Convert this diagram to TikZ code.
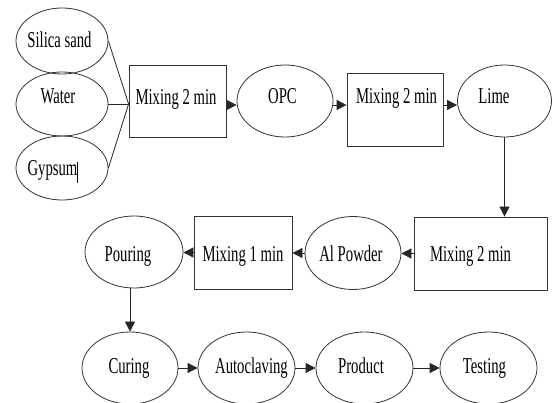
\documentclass[tikz,border=0pt]{standalone}
\usepackage{fontspec}
\setmainfont{Liberation Serif}
\usetikzlibrary{shapes.geometric,arrows.meta}
\newcommand\stretchtxt[1]{\scalebox{1}[1.54]{#1}}
\begin{document}
\begin{tikzpicture}[x=1pt,y=-1pt,
  shp/.style={draw=black!80, line width=0.8pt, inner sep=0pt},
  ell/.style={shp, ellipse},
  boxn/.style={shp, rectangle},
  lbl/.style={anchor=base, inner sep=0pt, font=\fontsize{14.7}{16}\selectfont},
  ln/.style={draw=black!85, line width=0.8pt},
  arr/.style={ln, -{Triangle[length=10pt,width=10pt]}}]
\useasboundingbox (0,0) rectangle (552,403);
% shapes
\node[ell, minimum width=92pt, minimum height=66pt] (silica) at (62,41) {};
\node[ell, minimum width=92pt, minimum height=64pt] (water) at (62,104) {};
\node[ell, minimum width=92pt, minimum height=64pt] (gyp) at (62,168) {};
\node[boxn, minimum width=97pt, minimum height=72pt] (box1) at (177.5,101) {};
\node[ell, minimum width=96pt, minimum height=72pt] (opc) at (285,101) {};
\node[boxn, minimum width=96pt, minimum height=73pt] (box2) at (395,109.5) {};
\node[ell, minimum width=94pt, minimum height=72pt] (lime) at (504.5,101) {};
\node[boxn, minimum width=133pt, minimum height=73pt] (box3) at (480.5,253.5) {};
\node[ell, minimum width=96pt, minimum height=73pt] (alp) at (353,253) {};
\node[boxn, minimum width=98pt, minimum height=73pt] (mix1) at (243,252.5) {};
\node[ell, minimum width=98pt, minimum height=72pt] (pour) at (134,252) {};
\node[ell, minimum width=96pt, minimum height=72pt] (cur) at (130,368) {};
\node[ell, minimum width=97pt, minimum height=72pt] (auto) at (246.5,368) {};
\node[ell, minimum width=97pt, minimum height=72pt] (prod) at (364.5,368) {};
\node[ell, minimum width=97pt, minimum height=72pt] (test) at (488.5,368) {};
% labels
\node[lbl] (tsilica) at (59.5,48) {\stretchtxt{Silica sand}};
\node[lbl] (twater) at (58,104) {\stretchtxt{Water}};
\node[lbl] (tgyp) at (52.5,176) {\stretchtxt{Gypsum}};
\draw[line width=0.6pt] (77.5,162) -- (77.5,183);
\node[lbl] (tbox1) at (176,105) {\stretchtxt{Mixing 2 min}};
\node[lbl] (topc) at (282.5,104) {\stretchtxt{OPC}};
\node[lbl] (tbox2) at (396.5,104) {\stretchtxt{Mixing 2 min}};
\node[lbl] (tlime) at (494,104) {\stretchtxt{Lime}};
\node[lbl] (tbox3) at (470.5,262) {\stretchtxt{Mixing 2 min}};
\node[lbl] (talp) at (351,262) {\stretchtxt{Al Powder}};
\node[lbl] (tmix1) at (243,262) {\stretchtxt{Mixing 1 min}};
\node[lbl] (tpour) at (128,262) {\stretchtxt{Pouring}};
\node[lbl] (tcur) at (129,374) {\stretchtxt{Curing}};
\node[lbl] (tauto) at (251.5,374) {\stretchtxt{Autoclaving}};
\node[lbl] (tprod) at (361,374) {\stretchtxt{Product}};
\node[lbl] (ttest) at (484.5,374) {\stretchtxt{Testing}};
% connectors
\coordinate (j) at (water.east -| box1.west);
\draw[ln] (silica.east) -- (j);
\draw[ln] (water.east) -- (j);
\draw[ln] (gyp.east) -- (j);
\coordinate (r1) at (0,105);
\draw[arr] (box1.east |- r1) -- (opc.west |- r1);
\draw[arr] (opc.east |- r1) -- (box2.west |- r1);
\draw[arr] (box2.east |- r1) -- (lime.west |- r1);
\draw[arr] (lime.south) -- (lime.south |- box3.north);
\draw[arr] (box3.west) -- (box3.west -| alp.east);
\draw[arr] (alp.west) -- (alp.west -| mix1.east);
\draw[arr] (mix1.west) -- (mix1.west -| pour.east);
\draw[arr] (cur.north |- pour.south) -- (cur.north);
\draw[arr] (cur.east) -- (auto.west);
\draw[arr] (auto.east) -- (prod.west);
\draw[arr] (prod.east) -- (test.west);
\end{tikzpicture}
\end{document}
